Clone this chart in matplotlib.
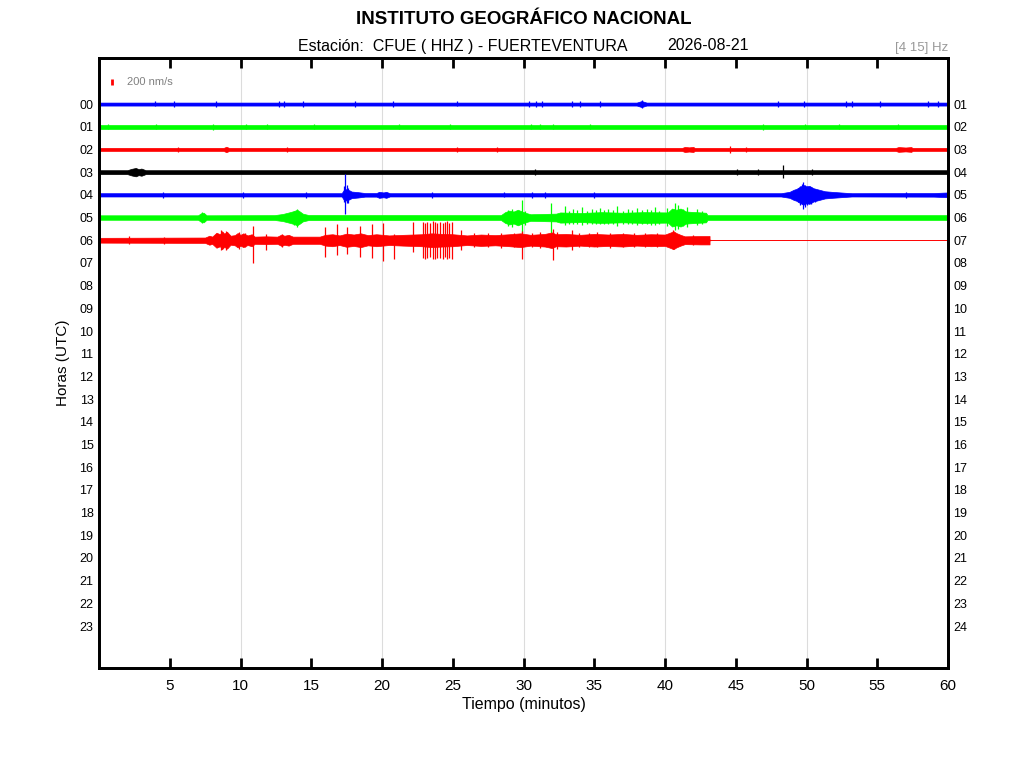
import matplotlib.pyplot as plt
import numpy as np

plt.rcParams['font.family'] = ['Liberation Sans', 'DejaVu Sans']

# helicorder rows that carry data (hour index) and their colours
hour_rows = [0, 1, 2, 3, 4, 5, 6]
row_colors = ['#0000ff', '#00ff00', '#ff0000', '#000000',
              '#0000ff', '#00ff00', '#ff0000']
row_end = [60, 60, 60, 60, 60, 60, 43.15]   # last minute recorded

left_labels = ['%02d' % h for h in range(24)]
right_labels = ['%02d' % (h + 1) for h in range(24)]
x_ticks = [5, 10, 15, 20, 25, 30, 35, 40, 45, 50, 55, 60]
grid_x = [10, 20, 30, 40, 50]

# envelope of each trace: (minute, half amplitude in nm/s)
env_00 = [(0, 50), (38.0, 50), (38.35, 100), (38.7, 50), (60, 50)]
env_01 = [(0, 60), (60, 60)]
env_02 = [(0, 50), (8.8, 50), (9.0, 90), (9.2, 50), (41.2, 50), (41.4, 85),
          (41.7, 70), (42.0, 85), (42.1, 50), (56.3, 50), (56.5, 80),
          (57.0, 65), (57.4, 80), (57.5, 50), (60, 50)]
env_03 = [(0, 65), (2.0, 65), (2.3, 110), (2.6, 140), (2.8, 100), (3.0, 120),
          (3.3, 65), (60, 65)]
env_04 = [(0, 55), (17.15, 55), (17.35, 200), (17.5, 180), (17.7, 150),
          (17.85, 110), (18.3, 90), (18.8, 60), (19.6, 60), (19.8, 100),
          (20.1, 80), (20.3, 100), (20.55, 55), (48.2, 55), (48.8, 100),
          (49.1, 170), (49.3, 200), (49.5, 260), (49.78, 330), (50.0, 280),
          (50.2, 300), (50.5, 220), (50.9, 170), (51.3, 120), (51.8, 100),
          (52.7, 70), (53.2, 55), (59.0, 60), (60, 80)]
env_05 = [(0, 75), (7.0, 75), (7.2, 140), (7.4, 160), (7.6, 75), (12.4, 80),
          (13.0, 120), (13.5, 180), (13.8, 220), (14.0, 260), (14.2, 200),
          (14.4, 130), (14.8, 85), (28.4, 80), (28.7, 180), (29.0, 230),
          (29.3, 200), (29.6, 260), (29.9, 200), (30.2, 150), (30.5, 110),
          (32.3, 130), (32.6, 170), (34.0, 150), (35.5, 180), (37.0, 160),
          (38.5, 180), (40.2, 170), (40.5, 300), (40.8, 260), (41.1, 300),
          (41.5, 200), (42.9, 160), (43.0, 80), (60, 80)]
env_06 = [(0, 80), (7.5, 90), (7.8, 150), (8.0, 120), (8.3, 250), (8.55, 200),
          (8.7, 300), (8.85, 220), (9.05, 280), (9.3, 150), (9.6, 170),
          (9.8, 240), (10.0, 180), (10.2, 230), (10.5, 160), (10.8, 200),
          (11.0, 120), (11.8, 130), (12.6, 120), (12.9, 190), (13.1, 150),
          (13.4, 180), (13.7, 120), (15.6, 120), (16.0, 180), (16.5, 200),
          (17.0, 160), (17.5, 220), (18.0, 190), (18.5, 230), (19.0, 170),
          (19.6, 200), (20.5, 160), (21.5, 180), (22.8, 200), (23.5, 230),
          (24.3, 210), (25.0, 200), (26.0, 160), (27.0, 190), (28.0, 170),
          (29.0, 200), (29.8, 230), (30.5, 180), (31.5, 210), (32.0, 260),
          (32.3, 200), (33.0, 210), (34.0, 180), (35.0, 210), (36.0, 190),
          (37.0, 210), (38.0, 180), (39.0, 200), (40.0, 190), (40.4, 260),
          (40.6, 300), (40.8, 240), (41.1, 180), (41.4, 130), (42.5, 140),
          (43.15, 140)]

# spikes: (minute, upward nm/s, downward nm/s)
spikes_00 = [(3.96, 90, 80), (5.3, 90, 90), (8.3, 100, 90), (12.7, 110, 100),
             (13.1, 90, 90), (14.4, 100, 90), (18.1, 100, 100), (20.8, 90, 90),
             (25.3, 90, 80), (30.4, 100, 90), (30.9, 110, 100), (31.3, 100, 90),
             (33.4, 100, 100), (34.0, 110, 100), (35.4, 90, 90),
             (38.35, 150, 120), (48.0, 90, 90), (49.8, 100, 90),
             (52.8, 110, 100), (53.2, 100, 100), (55.2, 110, 90),
             (58.6, 90, 90), (59.3, 100, 100)]
spikes_01 = [(0.65, 100, 90), (4.05, 90, 90), (8.05, 100, 100), (10.4, 90, 90),
             (11.9, 90, 90), (15.2, 100, 90), (21.2, 90, 80), (24.8, 90, 90),
             (30.5, 90, 90), (31.2, 100, 90), (32.1, 90, 90), (34.7, 90, 90),
             (46.9, 100, 100), (49.9, 90, 90), (52.3, 90, 90), (56.5, 90, 90)]
spikes_02 = [(5.6, 90, 80), (13.3, 90, 90), (25.3, 90, 80), (28.1, 90, 80),
             (44.6, 120, 110), (45.7, 90, 90)]
spikes_03 = [(30.8, 100, 90), (45.06, 110, 100), (46.6, 120, 110),
             (48.36, 230, 200), (50.4, 90, 90)]
spikes_04 = [(17.39, 700, 630), (17.3, 300, 250), (17.5, 330, 280),
             (17.62, 230, 260), (49.78, 430, 470), (49.55, 300, 330),
             (49.65, 360, 300), (49.9, 330, 400), (50.05, 300, 330),
             (50.3, 260, 300), (49.4, 230, 250), (50.6, 200, 230),
             (4.5, 90, 90), (10.2, 90, 90), (14.6, 90, 90), (23.5, 90, 90),
             (28.6, 90, 80), (30.6, 110, 100), (31.5, 100, 100),
             (35.0, 90, 90), (57.0, 100, 100)]
spikes_05 = [(29.87, 600, 500), (31.95, 470, 500), (32.93, 400, 250),
             (33.52, 300, 200), (34.11, 350, 250), (34.82, 300, 200),
             (35.41, 330, 230), (36.0, 300, 200), (36.59, 370, 270),
             (37.41, 280, 200), (38.0, 330, 250), (38.71, 300, 230),
             (39.29, 350, 260), (40.12, 330, 270), (40.71, 470, 430),
             (40.94, 420, 380), (41.53, 360, 300), (42.24, 300, 250),
             (29.2, 300, 300), (28.9, 250, 280), (30.1, 230, 250),
             (14.0, 270, 300), (13.8, 230, 250), (7.3, 170, 170),
             (33.2, 220, 200), (33.8, 250, 200), (34.5, 220, 230),
             (35.1, 250, 200), (35.7, 240, 230), (36.3, 250, 200),
             (37.0, 230, 220), (37.7, 250, 230), (38.4, 240, 200),
             (39.0, 250, 240), (39.6, 230, 230), (41.3, 300, 280),
             (42.6, 230, 200)]
spikes_06 = [(10.9, 470, 770), (11.8, 200, 330), (16.0, 430, 570),
             (16.8, 530, 500), (17.55, 430, 470), (18.45, 470, 570),
             (19.27, 530, 600), (20.1, 560, 700),
             (20.85, 200, 630), (22.2, 600, 400),
             (22.88, 600, 580), (23.04, 560, 620), (23.2, 620, 600),
             (23.39, 580, 560), (23.58, 640, 620), (23.75, 600, 640),
             (23.91, 560, 580), (24.1, 620, 600), (24.29, 580, 640),
             (24.45, 600, 560), (24.62, 640, 620), (24.76, 560, 600),
             (24.93, 600, 620), (25.6, 330, 330), (29.87, 300, 630),
             (32.06, 370, 660), (33.4, 330, 330), (2.1, 130, 120),
             (4.6, 120, 120), (8.6, 330, 320), (8.95, 300, 330),
             (9.9, 260, 280), (10.3, 250, 230), (12.9, 220, 220),
             (26.5, 240, 230), (27.5, 250, 230), (28.4, 230, 250),
             (29.3, 250, 240), (30.6, 240, 230), (31.2, 260, 250),
             (32.4, 280, 300), (33.9, 240, 230), (34.6, 250, 240),
             (35.2, 260, 220), (36.1, 240, 250), (37.0, 240, 230),
             (37.8, 230, 240), (38.6, 250, 220), (39.4, 240, 230),
             (40.55, 330, 300), (42.0, 180, 170)]

envelopes = [env_00, env_01, env_02, env_03, env_04, env_05, env_06]
spikes = [spikes_00, spikes_01, spikes_02, spikes_03, spikes_04, spikes_05,
          spikes_06]

scale_nm = 200
# 200 nm/s is drawn as 6 px, one hour row is about 22.7 px
gain = (6 / 22.7) / scale_nm

fig = plt.figure(figsize=(10.24, 7.68), dpi=100)
ax = fig.add_axes([99 / 1024, 1 - 668 / 768, 849 / 1024, 610 / 768])

for x in grid_x:
    ax.axvline(x, color='#dcdcdc', lw=0.8, zorder=0)

for row, color, end, env, spk in zip(hour_rows, row_colors, row_end,
                                     envelopes, spikes):
    t = np.array([p[0] for p in env])
    a = np.array([p[1] for p in env]) * gain
    ax.fill_between(t, row - a, row + a, color=color, lw=0.5, zorder=2)
    ax.plot([0, end], [row, row], color=color, lw=1.0, zorder=2)
    st = [s[0] for s in spk]
    up = [row - s[1] * gain for s in spk]
    dn = [row + s[2] * gain for s in spk]
    ax.vlines(st, up, dn, color=color, lw=0.9, zorder=2)
    if end < 60:
        ax.plot([end, 60], [row, row], color=color, lw=0.7, zorder=2)

# amplitude scale bar
ax.vlines(0.95, -0.97 - 100 * gain, -0.97 + 100 * gain, color='#ff0000', lw=2)
ax.text(1.98, -0.97, '%d nm/s' % scale_nm, color='#808080', fontsize=8,
        va='center', ha='left')

ax.set_xlim(0, 60)
ax.set_ylim(24.85, -2.03)
ax.set_xticks(x_ticks)
ax.set_xticklabels([str(v) for v in x_ticks], fontsize=11)
ax.tick_params(axis='x', direction='in', length=7, width=2, top=True,
               pad=8)
ax.set_yticks(range(24))
ax.set_yticklabels(left_labels, fontsize=9)
ax.tick_params(axis='y', length=0, pad=4)
for s in ax.spines.values():
    s.set_linewidth(2)

ax_r = ax.twinx()
ax_r.set_ylim(ax.get_ylim())
ax_r.set_yticks(range(24))
ax_r.set_yticklabels(right_labels, fontsize=9)
ax_r.tick_params(axis='y', length=0, pad=4)
for s in ax_r.spines.values():
    s.set_linewidth(2)

ax.set_xlabel('Tiempo (minutos)', fontsize=11.5, labelpad=3)
ax.set_ylabel('Horas (UTC)', fontsize=11, labelpad=7)

fig.text(524 / 1024, 1 - 19 / 768, 'INSTITUTO GEOGRÁFICO NACIONAL',
         ha='center', va='center', fontsize=13.5, fontweight='bold')
fig.text(298 / 1024, 1 - 46 / 768, 'Estación:  CFUE ( HHZ ) - FUERTEVENTURA',
         ha='left', va='center', fontsize=11.5)
fig.text(667 / 1024, 1 - 46 / 768, '2026-08-21',
         ha='left', va='center', fontsize=11.5)
fig.text(948 / 1024, 1 - 48 / 768, '[4 15] Hz', ha='right', va='center',
         fontsize=9.5, color='#999999')

fig.savefig('out.png', dpi=100)
